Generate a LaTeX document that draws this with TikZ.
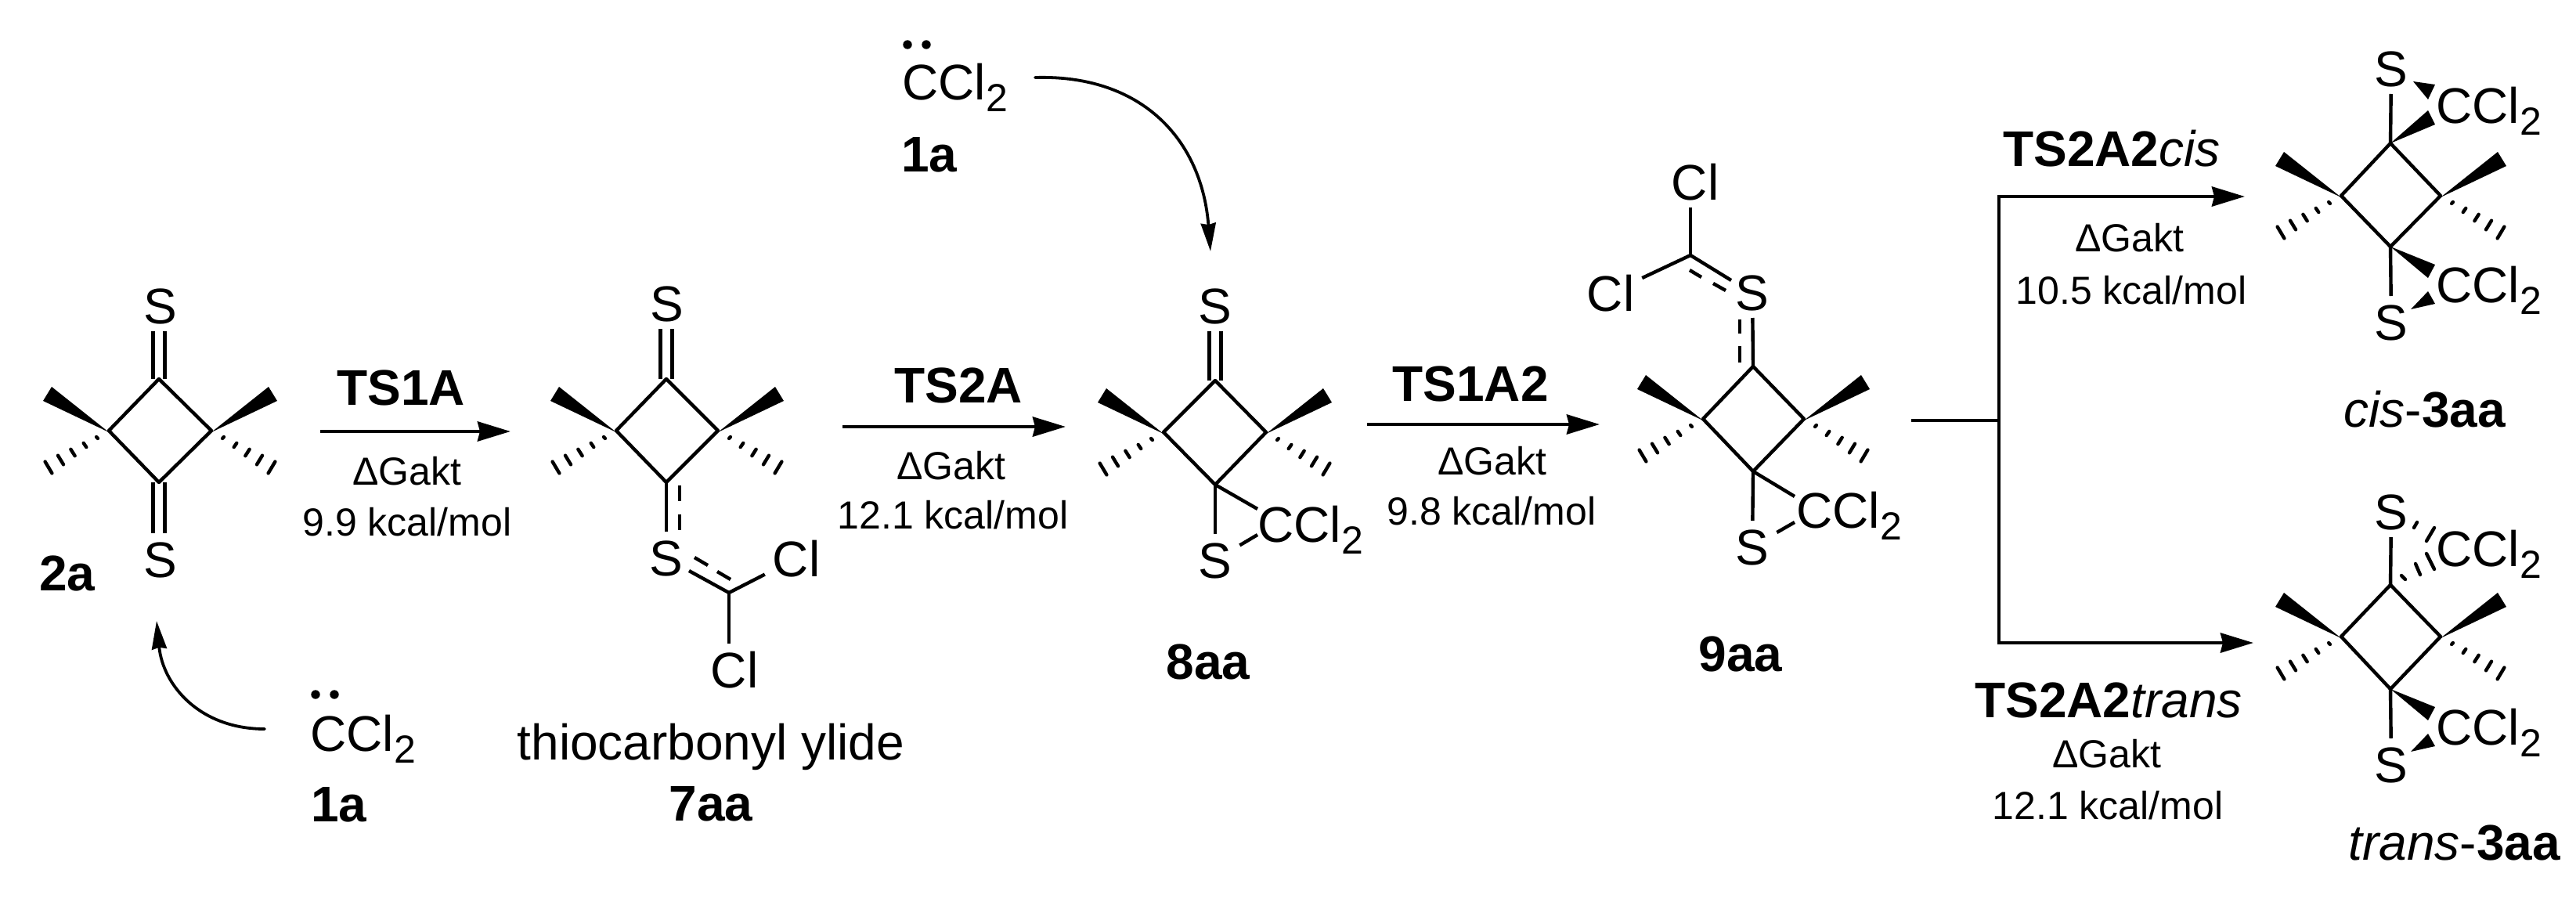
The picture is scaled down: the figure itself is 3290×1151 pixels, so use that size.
\documentclass[tikz,border=0pt]{standalone}
\usepackage{fontspec}
\setmainfont{Liberation Sans}
\usetikzlibrary{calc,arrows.meta}
\tikzset{
  bond/.style={line width=2.2pt,line cap=butt,line join=round},
  hashb/.style={line width=2.2pt,line cap=round},
  atom/.style={inner sep=0pt,outer sep=5pt,text height=23pt,text depth=0pt,font=\fontsize{32}{38}\selectfont},
  big/.style={inner sep=0pt,text height=23pt,text depth=0pt,font=\fontsize{32}{38}\selectfont},
  small/.style={inner sep=0pt,text height=18pt,text depth=0pt,font=\fontsize{25}{30}\selectfont},
  rxn/.style={line width=2.4pt,-{Stealth[length=21pt,width=12.5pt,inset=1.5pt]}},
  curly/.style={line width=1.9pt,line cap=round,-{Stealth[length=18pt,width=9.5pt,inset=1pt]}},
  plain/.style={line width=2.2pt,line join=miter}
}
\newcommand{\ccltwo}{CCl\raisebox{-7.5pt}{\fontsize{25}{30}\selectfont 2}}
\newcommand{\cbring}[7]{%
  \coordinate (#1t) at (#2,#3);
  \coordinate (#1l) at (#4,#5);
  \coordinate (#1r) at (#6,#5);
  \coordinate (#1b) at (#2,#7);
  \draw[bond] (#1t)--(#1l)--(#1b)--(#1r)--cycle;
  \fill ($(#1l)+(0,2)$) -- ($(#1l)+(-73,-56)$) -- ($(#1l)+(-84,-38)$) -- cycle;
  \fill ($(#1r)+(0,2)$) -- ($(#1r)+(73,-56)$) -- ($(#1r)+(84,-38)$) -- cycle;
  \foreach \k in {0,1,2,3,4}{
    \pgfmathsetmacro{\cx}{15+\k*15.5}
    \pgfmathsetmacro{\cy}{9+\k*9.5}
    \pgfmathsetmacro{\hx}{0.9+\k*0.875}
    \pgfmathsetmacro{\hy}{1+\k*1.6}
    \draw[hashb] ($(#1l)+(-\cx,\cy)+(-\hx,-\hy)$) -- ($(#1l)+(-\cx,\cy)+(\hx,\hy)$);
    \draw[hashb] ($(#1r)+(\cx,\cy)+(\hx,-\hy)$) -- ($(#1r)+(\cx,\cy)+(-\hx,\hy)$);
  }
}
\newcommand{\dblbond}[2]{%
  \coordinate (tmpe) at (#1 |- #2);
  \draw[bond] ([xshift=-3.75pt]#1) -- ([xshift=-3.75pt]tmpe);
  \draw[bond] ([xshift=3.75pt]#1) -- ([xshift=3.75pt]tmpe);
}
\begin{document}
\begin{tikzpicture}[x=0.5pt,y=-0.5pt]
\useasboundingbox (0,0) rectangle (3290,1151);

% ---------- 2a
\cbring{a}{203}{484}{139}{550}{270}{616}
\node[atom] (aS1) at (205,390) {S};
\node[atom] (aS2) at (205,714) {S};
\dblbond{at}{aS1.south}
\dblbond{ab}{aS2.north}
\node[big] (l2a) at (86,731) {\textbf{2a}};

% ---------- carbene 1a, lower
\node[big,anchor=west] (cA) at (396,936) {\ccltwo};
\node[big] (l1aA) at (433,1026) {\textbf{1a}};
\fill (403,887) circle (5.7) (427,887) circle (5.7);
\coordinate (cAs) at (338,931);
\coordinate (cAe) at (200,793);
\draw[curly] (cAs) .. controls (255,931) and (208,875) .. (cAe);

% ---------- arrow TS1A
\coordinate (r1s) at (409,551);
\coordinate (r1e) at (652,551);
\draw[rxn] (r1s) -- (r1e);
\node[big] (ts1) at (512,494) {\textbf{TS1A}};
\node[small] (g1) at (520,601) {ΔGakt};
\node[small] (e1) at (520,666) {9.9 kcal/mol};

% ---------- 7aa
\cbring{b}{851}{484}{787}{550}{917}{616}
\node[atom] (bS1) at (852,387) {S};
\dblbond{bt}{bS1.south}
\node[atom] (bS2) at (851,712) {S};
\draw[bond] (bb) -- (bS2);
\draw[bond] (868,620) -- (868,640) (868,657) -- (868,677);
\coordinate (bC) at (931,757);
\coordinate (bSe) at (880,729);
\draw[bond] (bSe) -- (bC);
\draw[bond] (887,712) -- (904,722) (916,730) -- (933,740);
\node[atom] (bCl1) at (1017,713) {Cl};
\node[atom] (bCl2) at (938,855) {Cl};
\draw[bond] (bC) -- (bCl1);
\draw[bond] (bC) -- (bC |- bCl2.north);
\node[big] (thio) at (908,947) {thiocarbonyl ylide};
\node[big] (l7) at (908,1025) {\textbf{7aa}};

% ---------- arrow TS2A
\coordinate (r2s) at (1076,545);
\coordinate (r2e) at (1361,545);
\draw[rxn] (r2s) -- (r2e);
\node[big] (ts2) at (1224,491) {\textbf{TS2A}};
\node[small] (g2) at (1215,594) {ΔGakt};
\node[small] (e2) at (1217,657) {12.1 kcal/mol};

% ---------- carbene 1a, upper
\node[big,anchor=west] (cB) at (1152,104) {\ccltwo};
\node[big] (l1aB) at (1187,196) {\textbf{1a}};
\fill (1159,57) circle (5.7) (1183,57) circle (5.7);
\coordinate (cBs) at (1322,99);
\coordinate (cBe) at (1546,321);
\draw[curly] (cBs) .. controls (1460,95) and (1535,180) .. (cBe);

% ---------- 8aa
\cbring{c}{1552}{486}{1486}{552}{1617}{619}
\node[atom] (cS1) at (1552,390) {S};
\dblbond{ct}{cS1.south}
\node[atom] (cS2) at (1552,715) {S};
\draw[bond] (cb) -- (cS2);
\node[big,anchor=west] (cCCl) at (1606,669) {\ccltwo};
\coordinate (cK1) at (1606,650);
\coordinate (cK2) at (1606,683);
\draw[bond] (cb) -- (cK1);
\draw[bond] (cS2) -- (cK2);
\node[big] (l8) at (1543,844) {\textbf{8aa}};

% ---------- arrow TS1A2
\coordinate (r3s) at (1746,542);
\coordinate (r3e) at (2043,542);
\draw[rxn] (r3s) -- (r3e);
\node[big] (ts3) at (1878,489) {\textbf{TS1A2}};
\node[small] (g3) at (1906,588) {ΔGakt};
\node[small] (e3) at (1905,652) {9.8 kcal/mol};

% ---------- 9aa
\cbring{d}{2239}{468}{2175}{535}{2304}{602}
\node[atom] (dS1) at (2238,373) {S};
\draw[bond] (dt) -- (dS1);
\draw[bond] (2222,463) -- (2222,442) (2222,426) -- (2222,408);
\coordinate (dC) at (2159,326);
\coordinate (dSe) at (2211,358);
\draw[bond] (dC) -- (dSe);
\draw[bond] (2158,345) -- (2173,354) (2188,362) -- (2204,371);
\node[atom] (dCl1) at (2057,374) {Cl};
\node[atom] (dCl2) at (2165,232) {Cl};
\draw[bond] (dC) -- (dCl1);
\draw[bond] (dC) -- (dC |- dCl2.south);
\node[atom] (dS2) at (2238,698) {S};
\draw[bond] (db) -- (dS2);
\node[big,anchor=west] (dCCl) at (2294,651) {\ccltwo};
\coordinate (dK1) at (2292,634);
\coordinate (dK2) at (2292,667);
\draw[bond] (db) -- (dK1);
\draw[bond] (dS2) -- (dK2);
\node[big] (l9) at (2223,834) {\textbf{9aa}};

% ---------- branching
\coordinate (bs) at (2441,537);
\coordinate (bm) at (2553,537);
\coordinate (bu) at (2553,251);
\coordinate (bd) at (2553,821);
\coordinate (bue) at (2867,251);
\coordinate (bde) at (2878,821);
\draw[plain] (bs) -- (bm);
\draw[rxn] (bm) -- (bu) -- (bue);
\draw[rxn] (bm) -- (bd) -- (bde);
\node[big] (ts4) at (2697,189) {\textbf{TS2A2}\textit{cis}};
\node[small] (g4) at (2720,303) {ΔGakt};
\node[small] (e4) at (2722,370) {10.5 kcal/mol};
\node[big] (ts5) at (2693,893) {\textbf{TS2A2}\textit{trans}};
\node[small] (g5) at (2691,962) {ΔGakt};
\node[small] (e5) at (2692,1028) {12.1 kcal/mol};

% ---------- cis-3aa
\cbring{e}{3053}{183}{2990}{250}{3117}{315}
\node[atom] (eS1) at (3054,87) {S};
\node[atom] (eS2) at (3054,411) {S};
\draw[bond] (et) -- (eS1);
\draw[bond] (eb) -- (eS2);
\node[big,anchor=west] (eC1) at (3111,134) {\ccltwo};
\node[big,anchor=west] (eC2) at (3111,363) {\ccltwo};
\fill (et) -- (3101,141) -- (3110,159) -- cycle;
\fill (3082,104) -- (3110,108) -- (3101,127) -- cycle;
\fill (eb) -- (3110,338) -- (3101,355) -- cycle;
\fill (3079,395) -- (3101,372) -- (3110,388) -- cycle;
\node[big] (lc) at (3097,522) {\textit{cis}-\textbf{3aa}};

% ---------- trans-3aa
\cbring{f}{3053}{747}{2990}{813}{3117}{880}
\node[atom] (fS1) at (3054,653) {S};
\node[atom] (fS2) at (3054,976) {S};
\draw[bond] (ft) -- (fS1);
\draw[bond] (fb) -- (fS2);
\node[big,anchor=west] (fC1) at (3111,700) {\ccltwo};
\node[big,anchor=west] (fC2) at (3111,928) {\ccltwo};
\draw[hashb] (3067,735) -- (3072,740) (3085,720) -- (3091,734) (3099,707) -- (3109,727)
  (3083,674) -- (3087,667) (3099,691) -- (3109,674);
\fill (fb) -- (3110,903) -- (3101,920) -- cycle;
\fill (3079,960) -- (3101,937) -- (3110,953) -- cycle;
\node[big] (lt) at (3135,1075) {\textit{trans}-\textbf{3aa}};
\end{tikzpicture}
\end{document}
